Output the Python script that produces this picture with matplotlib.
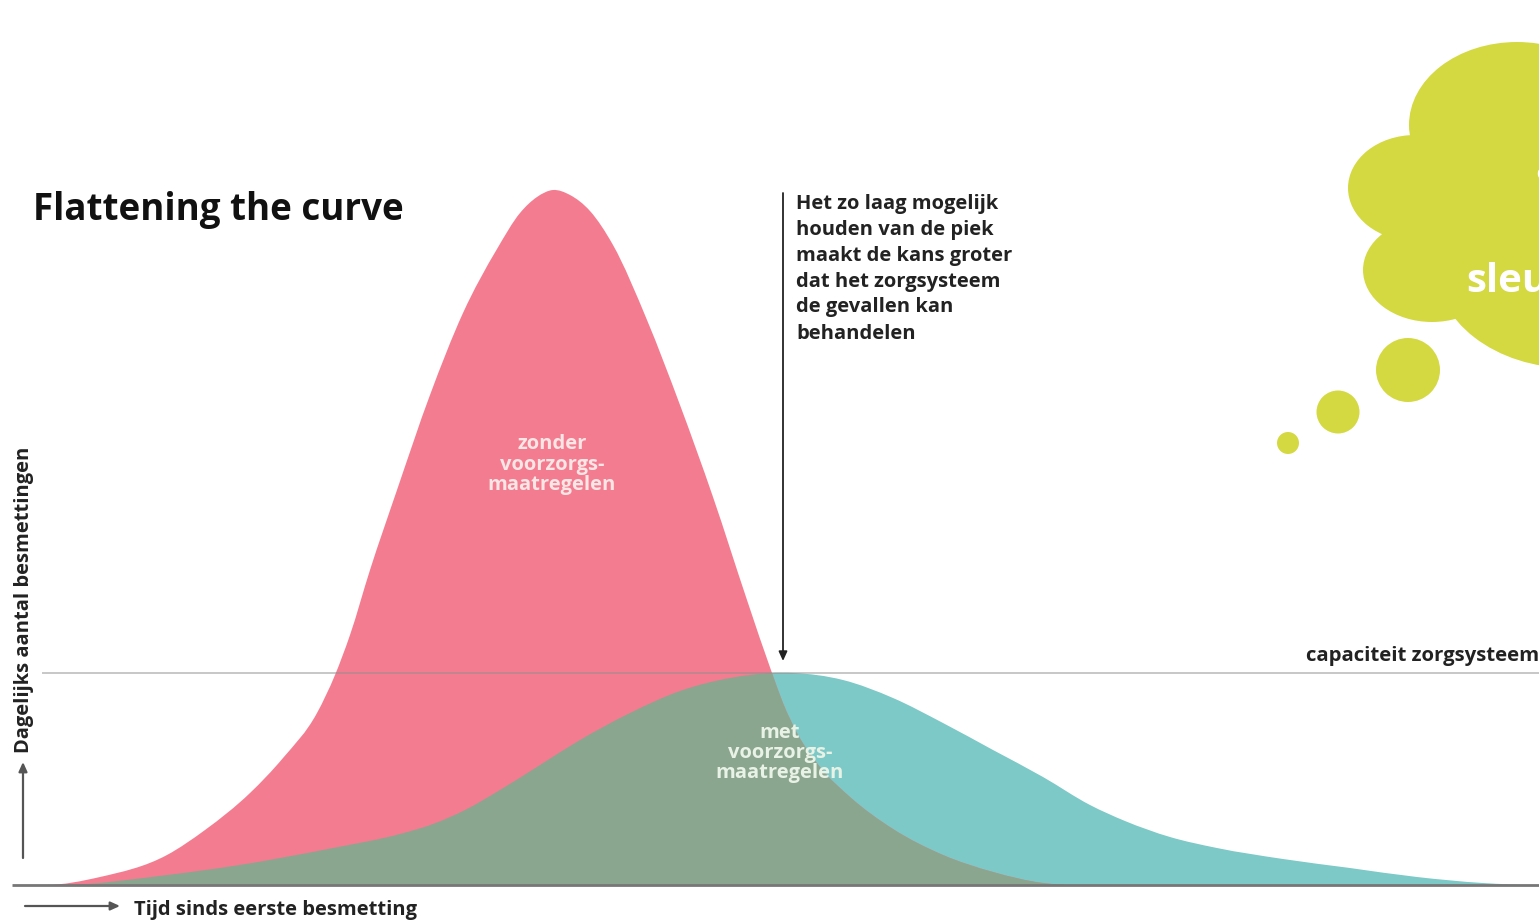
import numpy as np
import matplotlib
matplotlib.use("Agg")
import matplotlib.pyplot as plt
from matplotlib.path import Path
from matplotlib.patches import PathPatch, Ellipse, Circle

# Values (time position, daily infections in picture units)
time_without = [45, 100, 167, 205, 250, 283, 317, 335, 350, 370, 397, 430, 463, 497, 520, 537, 553, 570, 590, 613, 647, 680, 713, 747, 772, 783, 797, 820, 850, 893, 943, 993, 1043, 1075]
cases_without = [0, 8, 30, 55, 92, 127, 172, 210, 250, 315, 395, 490, 572, 636, 672, 688, 695, 690, 674, 640, 565, 480, 388, 285, 212, 182, 152, 118, 88, 56, 30, 13, 2, 0]
time_with = [60, 167, 233, 333, 400, 433, 465, 500, 540, 580, 630, 680, 730, 773, 793, 843, 893, 943, 993, 1043, 1090, 1125, 1170, 1217, 1283, 1350, 1417, 1483, 1535]
cases_with = [0, 10, 19, 37, 51, 61, 75, 95, 120, 145, 172, 194, 207, 212, 212, 205, 187, 162, 135, 108, 80, 64, 48, 37, 26, 17, 8, 2, 0]
capacity = 212
title = "Flattening the curve"
note_lines = ["Het zo laag mogelijk", "houden van de piek", "maakt de kans groter", "dat het zorgsysteem", "de gevallen kan", "behandelen"]

BASE = 885
W, H = 1539, 921
RED, TEAL, OVER, LIME = "#F47C90", "#7CC9C7", "#8BA68E", "#D4D942"
FONT = ["Open Sans", "DejaVu Sans"]

def smooth_area(xs, ys):
    """Closed area under the read points, outlined with Bezier segments."""
    x = np.asarray(xs, float)
    y = np.asarray(ys, float)
    h = np.diff(x)
    d = np.diff(y) / h
    m = np.zeros_like(x)
    m[1:-1] = (h[:-1] * d[1:] + h[1:] * d[:-1]) / (h[:-1] + h[1:])
    m[0], m[-1] = 0, 0
    verts, codes = [(x[0], y[0])], [Path.MOVETO]
    for i in range(len(x) - 1):
        verts += [(x[i] + h[i] / 3, y[i] + m[i] * h[i] / 3),
                  (x[i + 1] - h[i] / 3, y[i + 1] - m[i + 1] * h[i] / 3),
                  (x[i + 1], y[i + 1])]
        codes += [Path.CURVE4] * 3
    verts += [(x[0], y[0])]
    codes += [Path.CLOSEPOLY]
    return Path(verts, codes)

fig = plt.figure(figsize=(W / 100, H / 100), dpi=100, facecolor="white")
ax = fig.add_axes([0, 0, 1, 1])
ax.set_xlim(0, W)
ax.set_ylim(BASE - H, BASE)
ax.axis("off")

def py(y):
    return BASE - y

teal = PathPatch(smooth_area(time_with, cases_with), fc=TEAL, ec="none", zorder=2)
red = PathPatch(smooth_area(time_without, cases_without), fc=RED, ec="none", zorder=3)
ax.add_patch(teal)
ax.add_patch(red)
over = PathPatch(smooth_area(time_with, cases_with), fc=OVER, ec="none", zorder=4)
ax.add_patch(over)
over.set_clip_path(red)

ax.plot([43, W], [capacity, capacity], color="#8f8f8f", lw=1.4, alpha=0.5, zorder=5)
ax.plot([12, W], [0, 0], color="#777777", lw=2, zorder=6, solid_capstyle="butt")

def arrow(x0, y0, x1, y1, color="#333333", lw=1.3):
    ax.annotate("", xy=(x1, py(y1)), xytext=(x0, py(y0)), zorder=7,
                arrowprops=dict(arrowstyle="-|>,head_length=0.55,head_width=0.25", color=color,
                                lw=lw, shrinkA=0, shrinkB=0))

arrow(783, 193, 783, 661, color="#222222")
arrow(23, 858, 23, 762, color="#555555", lw=1.6)
arrow(25, 906, 120, 906, color="#555555", lw=1.6)

ax.text(33, py(210), title, fontsize=26.5, fontweight="bold", family=FONT, color="#111111", va="center", ha="left", zorder=8)
for line, y in zip(note_lines, [204, 230, 256, 282, 307, 334]):
    ax.text(796, py(y), line, fontsize=14.5, fontweight="bold", family=FONT, color="#222222", va="center", ha="left", zorder=8)

def centered(lines, x, ys, color):
    for line, y in zip(lines, ys):
        ax.text(x, py(y), line, fontsize=14.5, fontweight="bold", family=FONT, color=color, va="center", ha="center", zorder=8)

centered(["zonder", "voorzorgs-", "maatregelen"], 552, [444, 465, 485], "#FBE6E6")
centered(["met", "voorzorgs-", "maatregelen"], 780, [733, 753, 773], "#E8F2E6")

ax.text(1306, py(656), "capaciteit zorgsysteem", fontsize=14.7, fontweight="bold", family=FONT, color="#222222", va="center", ha="left", zorder=8)
ax.text(134, py(910), "Tijd sinds eerste besmetting", fontsize=14.5, fontweight="bold", family=FONT, color="#222222", va="center", ha="left", zorder=8)
ax.text(24, py(600), "Dagelijks aantal besmettingen", fontsize=14.5, fontweight="bold", family=FONT, color="#222222", va="center", ha="center", rotation=90, zorder=8)

# Thought cloud
for cx, cy, w, h in [(1517, 125, 216, 166), (1415, 188, 134, 106), (1432, 270, 138, 104), (1570, 264, 270, 208), (1530, 200, 200, 200)]:
    ax.add_patch(Ellipse((cx, py(cy)), w, h, fc=LIME, ec="none", zorder=2))
for cx, cy, r in [(1408, 370, 32), (1338, 412, 21.5), (1288, 443, 11)]:
    ax.add_patch(Circle((cx, py(cy)), r, fc=LIME, ec="none", zorder=2))
ax.text(1466, py(282), "sleu", fontsize=29, fontweight="bold", family=["Open Sans", "DejaVu Sans"], color="white", va="center", ha="left", zorder=8)
ax.text(1535, py(170), "a", fontsize=29, fontweight="bold", family=["Open Sans", "DejaVu Sans"], color="white", va="center", ha="left", zorder=8)

fig.savefig("out.png", dpi=100, facecolor="white")
